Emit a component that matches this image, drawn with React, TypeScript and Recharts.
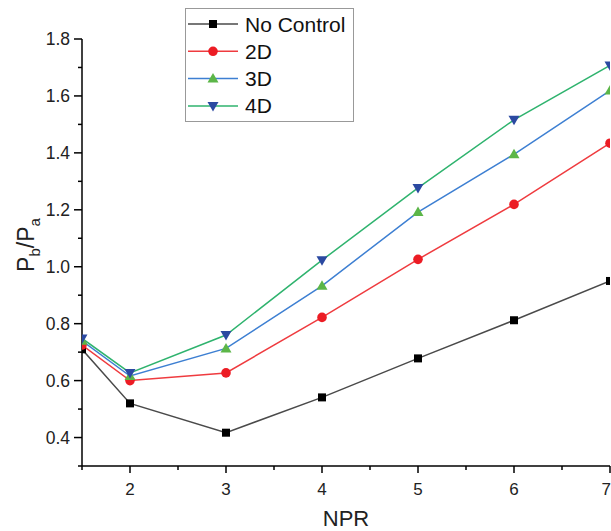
import React from "react";
import { LineChart, Line, XAxis, YAxis, Legend } from "recharts";

// NPR values and measured base pressure ratios (Pb/Pa)
const npr = [1.5, 2, 3, 4, 5, 6, 7];
const noControl = [0.71, 0.52, 0.417, 0.541, 0.678, 0.812, 0.95];
const d2 = [0.725, 0.6, 0.627, 0.822, 1.026, 1.219, 1.434];
const d3 = [0.74, 0.616, 0.713, 0.933, 1.192, 1.395, 1.619];
const d4 = [0.748, 0.627, 0.76, 1.023, 1.277, 1.516, 1.707];

const xTicks = [1.5, 2, 2.5, 3, 3.5, 4, 4.5, 5, 5.5, 6, 6.5, 7];
const xLabels = [2, 3, 4, 5, 6, 7];
const yTicks = [0.3, 0.4, 0.5, 0.6, 0.7, 0.8, 0.9, 1.0, 1.1, 1.2, 1.3, 1.4, 1.5, 1.6, 1.7, 1.8];
const yLabels = ["0.4", "0.6", "0.8", "1.0", "1.2", "1.4", "1.6", "1.8"];

const FONT = "'Liberation Sans', Arial, sans-serif";

type MarkerKind = "square" | "circle" | "up" | "down";

const series = [
  { key: "nc", name: "No Control", line: "#4a4a4a", fill: "#000000", marker: "square" as MarkerKind },
  { key: "d2", name: "2D", line: "#ef3b3f", fill: "#ec1c24", marker: "circle" as MarkerKind },
  { key: "d3", name: "3D", line: "#3d7fd2", fill: "#5cb648", marker: "up" as MarkerKind },
  { key: "d4", name: "4D", line: "#2fb36e", fill: "#2b49a1", marker: "down" as MarkerKind },
];

const data = npr.map((x, i) => ({
  npr: x,
  nc: noControl[i],
  d2: d2[i],
  d3: d3[i],
  d4: d4[i],
}));

const Marker = ({ kind, cx, cy, fill }: { kind: MarkerKind; cx: number; cy: number; fill: string }) => {
  if (kind === "square") return <rect x={cx - 4} y={cy - 4} width={8} height={8} fill={fill} />;
  if (kind === "circle") return <circle cx={cx} cy={cy} r={4.8} fill={fill} />;
  if (kind === "up")
    return <polygon points={`${cx},${cy - 5.5} ${cx + 5.5},${cy + 4} ${cx - 5.5},${cy + 4}`} fill={fill} />;
  return <polygon points={`${cx},${cy + 5.5} ${cx + 5.5},${cy - 4} ${cx - 5.5},${cy - 4}`} fill={fill} />;
};

const renderDot = (kind: MarkerKind, fill: string) => (props: any) => {
  const { cx, cy, index } = props;
  return <Marker key={index} kind={kind} cx={cx} cy={cy} fill={fill} />;
};

const XTick = (props: any) => {
  const { x, y, payload } = props;
  const v = payload.value;
  const major = xLabels.includes(v);
  // last label sits on the right edge of the picture
  const last = v === xLabels[xLabels.length - 1];
  return (
    <g>
      <line x1={x} y1={y} x2={x} y2={y + (major ? 7 : 4)} stroke="#000" strokeWidth={1.5} />
      {major && (
        <text
          x={last ? x + 1 : x}
          y={y + 29}
          textAnchor={last ? "end" : "middle"}
          fontSize={17}
          fontFamily={FONT}
          fill="#222"
        >
          {v}
        </text>
      )}
    </g>
  );
};

const YTick = (props: any) => {
  const { x, y, payload } = props;
  const label = payload.value.toFixed(1);
  const major = yLabels.includes(label);
  return (
    <g>
      <line x1={x} y1={y} x2={x - (major ? 8 : 4)} y2={y} stroke="#000" strokeWidth={1.5} />
      {major && (
        <text x={x - 12} y={y + 6} textAnchor="end" fontSize={17.5} fontFamily={FONT} fill="#222">
          {label}
        </text>
      )}
    </g>
  );
};

const YLabel = () => (
  <text
    transform="translate(34, 245) rotate(-90)"
    textAnchor="middle"
    fontSize={23}
    fontFamily={FONT}
    fill="#222"
  >
    P<tspan fontSize={15} dy={6}>b</tspan>
    <tspan dy={-6}>/P</tspan>
    <tspan fontSize={15} dy={6}>a</tspan>
  </text>
);

const XLabel = () => (
  <text x={346} y={526} textAnchor="middle" fontSize={22} fontFamily={FONT} fill="#222">
    NPR
  </text>
);

const LegendBox = () => (
  <svg width={169} height={114} style={{ display: "block" }}>
    <rect x={0.5} y={0.5} width={168} height={113} fill="#fff" stroke="#999" strokeWidth={1} />
    {series.map((s, i) => {
      const cy = 16 + i * 27.3;
      return (
        <g key={s.key}>
          <line x1={3} x2={53} y1={cy} y2={cy} stroke={s.line} strokeWidth={1.5} />
          <Marker kind={s.marker} cx={28} cy={cy} fill={s.fill} />
          <text x={60} y={cy + 7.5} fontSize={21} fontFamily={FONT} fill="#111">
            {s.name}
          </text>
        </g>
      );
    })}
  </svg>
);

export default function App() {
  return (
    <div style={{ position: "absolute", left: 0, top: 0, background: "#fff" }}>
      <LineChart width={611} height={531} data={data} margin={{ top: 39, right: 1, left: 0, bottom: 0 }}>
        <XAxis
          dataKey="npr"
          type="number"
          domain={[1.5, 7]}
          ticks={xTicks}
          interval={0}
          allowDataOverflow
          height={65}
          tickSize={0}
          tickMargin={0}
          tick={<XTick />}
          axisLine={{ stroke: "#000", strokeWidth: 1.5 }}
          label={<XLabel />}
        />
        <YAxis
          type="number"
          domain={[0.3, 1.8]}
          ticks={yTicks}
          interval={0}
          width={82}
          tickSize={0}
          tickMargin={0}
          tick={<YTick />}
          axisLine={{ stroke: "#000", strokeWidth: 1.5 }}
          label={<YLabel />}
        />
        <Legend
          layout="vertical"
          align="center"
          verticalAlign="middle"
          content={() => <LegendBox />}
          wrapperStyle={{ position: "absolute", left: 185, top: 8, width: 169, height: 114 }}
        />
        {series.map((s) => (
          <Line
            key={s.key}
            dataKey={s.key}
            name={s.name}
            stroke={s.line}
            strokeWidth={1.5}
            dot={renderDot(s.marker, s.fill)}
            activeDot={false}
            isAnimationActive={false}
          />
        ))}
      </LineChart>
    </div>
  );
}
